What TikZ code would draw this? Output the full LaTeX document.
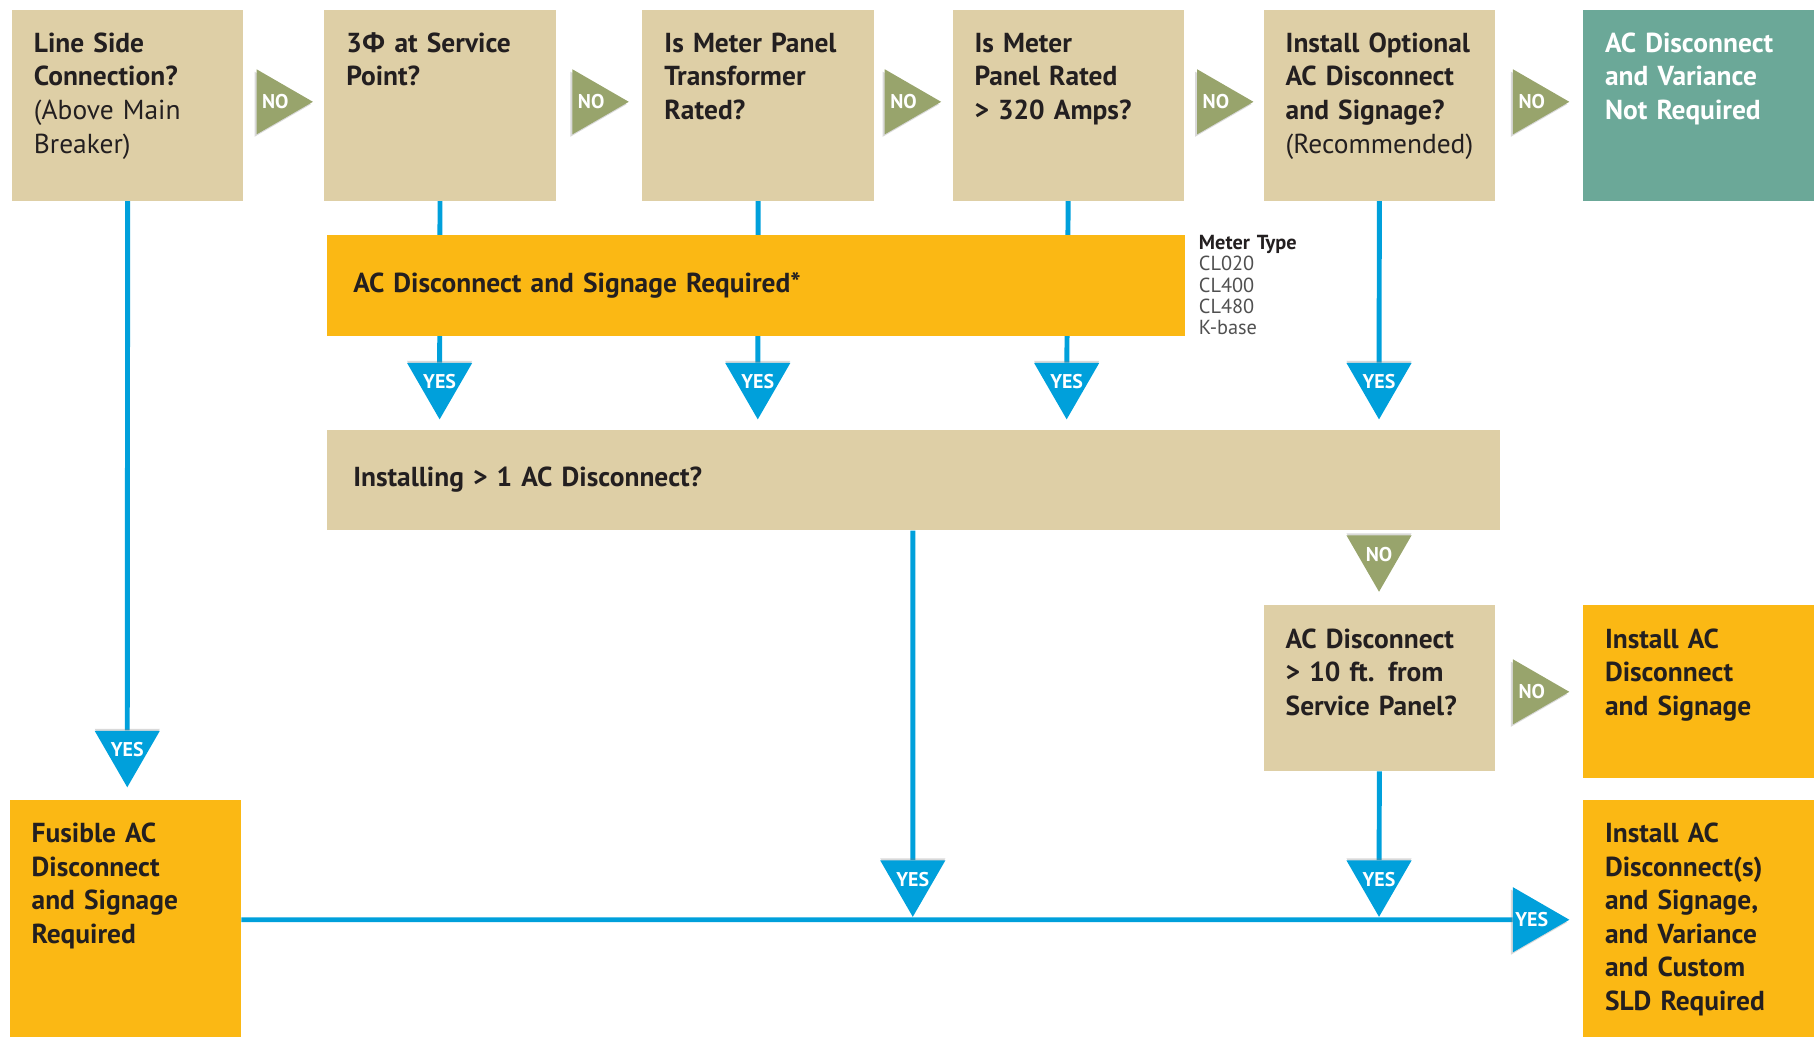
\documentclass[tikz,border=0pt]{standalone}
\usepackage{fontspec}
\setmainfont{PT Sans}
\newfontfamily\grkfont{Open Sans}
\usetikzlibrary{shapes.geometric}
\usetikzlibrary{shadows}
\usetikzlibrary{backgrounds}
\definecolor{qtan}{RGB}{222,207,166}
\definecolor{qteal}{RGB}{107,168,152}
\definecolor{qyellow}{RGB}{251,184,20}
\definecolor{qblue}{RGB}{0,160,219}
\definecolor{qolive}{RGB}{152,164,108}
\definecolor{qtext}{RGB}{35,31,32}
\definecolor{qgray}{RGB}{80,80,80}
\newcommand{\boxfont}{\fontsize{13.5pt}{16.5pt}\selectfont\bfseries\hyphenpenalty 10000\relax}
\tikzset{
  qbox/.style={rectangle, fill=qtan, anchor=north west, inner xsep=0.38cm, inner ysep=0pt,
    text width=3.24cm, align=left, text height=0.74cm, text=qtext, font=\boxfont},
  bar/.style={rectangle, anchor=north west, inner xsep=0.46cm, inner ysep=0pt,
    minimum height=1.74cm, align=left, text=qtext, font=\boxfont},
  tri/.style={regular polygon, regular polygon sides=3, minimum size=1.3cm, inner sep=-4pt,
    text=white, font=\fontsize{9.8pt}{10pt}\selectfont\bfseries},
  tdown/.style={tri, regular polygon rotate=180,
    drop shadow={shadow xshift=0pt, shadow yshift=1pt, opacity=.3}},
  tright/.style={tri, regular polygon rotate=-90,
    drop shadow={shadow xshift=-1pt, shadow yshift=-1.2pt, opacity=.3}},
  yesfill/.style={fill=qblue},
  nofill/.style={fill=qolive},
  link/.style={draw=qblue, line width=0.085cm}
}

\begin{document}
\begin{tikzpicture}[x=0.02cm, y=-0.02cm]
  \useasboundingbox (0,0) rectangle (1568,896);

  % questions, top row
  \node[qbox, text depth=2.56cm] (line) at (10,8) {Line Side\\Connection?\\\mdseries (Above Main\\Breaker)};
  \node[qbox, text depth=2.56cm] (svc) at (280,8) {3{\grkfont Φ} at Service\\Point?};
  \node[qbox, text depth=2.56cm] (xfmr) at (555,8) {Is Meter Panel\\Transformer\\Rated?};
  \node[qbox, text depth=2.56cm] (amps) at (823,8) {Is Meter\\Panel Rated\\> 320 Amps?};
  \node[qbox, text depth=2.56cm] (opt) at (1092,8) {Install Optional\\AC Disconnect\\and Signage?\\\mdseries (Recommended)};
  \node[qbox, fill=qteal, text=white, text depth=2.56cm] (notreq) at (1368,8) {AC Disconnect\\and Variance\\Not Required};

  \foreach \x/\n in {238/1, 511/2, 781/3, 1051/4, 1324/5}
    \node[tright, nofill] (no\n) at (\x,88) {NO};

  % required bar and meter types
  \node[bar, fill=qyellow, text width=13.92cm] (req) at (282,203) {AC Disconnect and Signage Required*};
  \node[anchor=north west, inner sep=0pt, text width=2cm, align=left, text=qgray,
    font=\fontsize{10pt}{10.5pt}\selectfont] (meter) at (1036,203)
    {\textcolor{qtext}{\bfseries Meter Type}\\CL020\\CL400\\CL480\\K-base};

  \node[tdown, yesfill] (yesA) at (110,648) {YES};
  \foreach \x/\n in {380/1, 655/2, 922/3, 1192/4}
    \node[tdown, yesfill] (yes\n) at (\x,330) {YES};

  % second question
  \node[bar, fill=qtan, text width=19.36cm] (inst) at (282,371) {Installing > 1 AC Disconnect?};
  \node[tdown, nofill] (noD) at (1192,479) {NO};
  \node[qbox, text depth=2.12cm] (dist) at (1092,523) {AC Disconnect\\> 10 ft. from\\Service Panel?};
  \node[tright, nofill] (no6) at (1324,598) {NO};
  \node[qbox, fill=qyellow, text depth=2.24cm] (sign) at (1368,523) {Install AC\\Disconnect\\and Signage};

  % results, bottom row
  \node[qbox, fill=qyellow, text depth=3.36cm] (fuse) at (8,691) {Fusible AC\\Disconnect\\and Signage\\Required};
  \node[qbox, fill=qyellow, text depth=3.36cm] (full) at (1368,691) {Install AC\\Disconnect(s)\\and Signage,\\and Variance\\and Custom\\SLD Required};
  \node[tdown, yesfill] (yesB) at (789,760) {YES};
  \node[tdown, yesfill] (yesC) at (1192,760) {YES};
  \node[tright, yesfill] (yesR) at (1324,795) {YES};

  % blue links
  \begin{scope}[on background layer]
    \draw[link] (line.south) -- (yesA);
    \foreach \b/\n in {svc/1, xfmr/2, amps/3, opt/4}
      \draw[link] (\b.south) -- (yes\n);
    \draw[link] (inst.south -| yesB) -- (yesB);
    \draw[link] (dist.south) -- (yesC);
    \draw[link] (fuse.east |- yesR) -- (yesR);
  \end{scope}
\end{tikzpicture}
\end{document}
